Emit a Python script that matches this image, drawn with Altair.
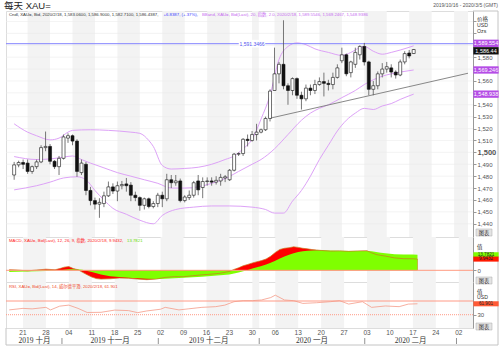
import altair as alt
import pandas as pd

# ---------------- candles: one per weekday, index 0 = 2019-10-16, index 89 = 2020-02-18
candle_idx = list(range(90))
opens = [1481, 1489.5, 1491.5, 1491, 1484, 1488, 1492, 1504, 1505, 1492.5,
         1488, 1495, 1512, 1514, 1509.5, 1483, 1490, 1468, 1459.5, 1456.5,
         1457, 1463.5, 1471, 1467.5, 1472, 1473.5, 1472.5, 1464, 1462, 1455.5,
         1461, 1454.5, 1457, 1464, 1461, 1477, 1474.5, 1476, 1459.5, 1462,
         1464, 1476, 1470.5, 1475.5, 1476, 1475, 1476, 1478.5, 1477, 1485,
         1498.5, 1499, 1511, 1510, 1515, 1517, 1519, 1528.5, 1552, 1566,
         1574, 1556, 1552, 1562, 1548, 1545, 1554, 1552, 1557, 1559.5,
         1558, 1557, 1563, 1577, 1582, 1567, 1574, 1582, 1589, 1576,
         1553, 1556, 1566, 1570, 1571, 1567.5, 1565, 1576, 1583.5, 1583.06]
highs = [1492, 1493, 1494, 1494, 1489, 1494, 1506, 1517.5, 1507, 1493.5,
         1497, 1515, 1516, 1515, 1511, 1494, 1492, 1471, 1462, 1461.5,
         1467, 1475.5, 1474, 1475.5, 1476, 1478.5, 1475, 1467, 1463, 1462,
         1462, 1459, 1466, 1467, 1482, 1481, 1481, 1478, 1464, 1468,
         1476, 1481, 1479, 1479, 1479, 1480, 1482, 1481, 1486, 1499.5,
         1500, 1512, 1515, 1518, 1524, 1520, 1530, 1553, 1588, 1576,
         1611, 1558, 1563, 1563, 1551, 1557, 1557, 1561, 1563, 1567,
         1561, 1567, 1574, 1588, 1583, 1577, 1588, 1590, 1592, 1577,
         1560, 1568, 1575, 1576, 1574, 1569, 1578, 1585, 1586, 1586.9]
lows = [1477, 1487.5, 1486, 1482, 1482, 1486, 1491, 1501, 1490, 1486,
        1481, 1494, 1508, 1506, 1479.5, 1481, 1464, 1455.5, 1452, 1445,
        1454, 1462.5, 1465, 1459, 1469, 1467, 1459, 1459, 1451, 1452,
        1453, 1453, 1454, 1454, 1459, 1470, 1472, 1458, 1458, 1460,
        1462, 1464, 1461.5, 1472, 1472, 1473, 1472, 1475, 1476, 1484,
        1497, 1497, 1505, 1509, 1510, 1516, 1518, 1526, 1552, 1558,
        1553, 1540, 1548, 1545, 1536, 1543, 1548, 1549, 1556, 1547,
        1552, 1553, 1562, 1575, 1564, 1563, 1571, 1578, 1573, 1548,
        1548, 1553, 1563, 1567, 1563, 1562, 1564, 1574, 1579, 1582.71]
closes = [1489.5, 1491.5, 1490, 1484, 1488, 1492, 1504, 1505, 1492.5, 1488,
          1495, 1513, 1514, 1509.5, 1484, 1491, 1468, 1459.5, 1456.5, 1458,
          1463.5, 1471, 1467.5, 1472, 1473, 1472, 1464, 1462, 1455.5, 1461,
          1454.5, 1457, 1464, 1461, 1477, 1474.5, 1476, 1459.5, 1462.5, 1464,
          1474.5, 1468.5, 1475.5, 1476, 1475, 1476.5, 1479, 1479.5, 1485, 1498.5,
          1499, 1511, 1510, 1515, 1517, 1519, 1528.5, 1551.5, 1566, 1574,
          1556, 1552, 1562, 1548, 1545, 1554, 1552, 1557, 1559.5, 1558,
          1557, 1563, 1571, 1582, 1566, 1576, 1584, 1589, 1576, 1553,
          1556, 1566, 1570, 1572, 1567.5, 1565, 1576, 1583, 1581, 1586.44]

# ---------------- Bollinger bands (20, 2.0)
bb_up_idx = [0, 3, 5, 8, 10, 12, 13, 17, 21, 26, 28, 30, 31, 33, 35, 38, 41, 44, 47, 49,
             51, 53, 55, 57, 59, 61, 63, 65, 67, 70, 73, 75, 77, 78, 80, 82, 84, 86, 89]
bb_up = [1524, 1517, 1514, 1510.5, 1512, 1517, 1518.5, 1519, 1518.5, 1517,
         1516, 1510, 1505, 1489, 1486, 1486.5, 1487.5, 1490, 1494, 1497,
         1503, 1511, 1528, 1548, 1578, 1589, 1592, 1590.5, 1587, 1584,
         1581.5, 1584, 1588, 1589, 1585, 1582.5, 1584, 1586, 1589.55]
bb_mid_idx = [0, 5, 8, 11, 13, 15, 17, 20, 23, 26, 29, 32, 35, 38, 41, 44, 47, 50, 53, 55,
              58, 61, 64, 66, 68, 70, 73, 76, 78, 80, 82, 84, 86, 89]
bb_mid = [1496.5, 1494, 1494.5, 1496, 1497, 1494, 1491, 1487, 1483, 1480,
          1477, 1474, 1470, 1470, 1471, 1474, 1478, 1484, 1490, 1494,
          1503, 1515, 1527, 1533, 1537, 1540, 1546, 1552, 1557, 1561,
          1564, 1566, 1567.5, 1569.25]
bb_low_idx = [0, 5, 8, 11, 14, 16, 18, 20, 22, 25, 28, 31, 33, 36, 40, 44, 48, 53, 56, 58,
              60, 62, 64, 66, 68, 70, 72, 74, 76, 78, 80, 82, 84, 86, 89]
bb_low = [1468.5, 1472, 1475, 1478.5, 1479.5, 1477, 1468, 1460, 1453, 1448,
          1443, 1440, 1447, 1452, 1454, 1455, 1455, 1454, 1452, 1449,
          1449, 1459, 1468, 1480, 1494, 1506, 1518, 1527, 1533, 1537,
          1536, 1539, 1541, 1544.5, 1548.94]

# ---------------- horizontal level and trend line
level_value = [1591.3466]
level_text = ["1,591.3466"]
trend_idx = [57, 101.1]
trend_val = [1528.7, 1566.5]

# ---------------- MACD (12, 26, 9)
macd_idx = [0, 2, 4, 6, 8, 10, 11, 12, 13, 14, 15, 16, 17, 18, 19, 20, 22, 24, 26, 28,
            30, 32, 34, 36, 38, 40, 42, 44, 46, 48, 49, 50, 51, 52, 53, 54, 55, 56, 57, 58,
            59, 60, 61, 62, 63, 64, 65, 66, 67, 68, 70, 72, 74, 76, 78, 79, 80, 81, 82, 84,
            86, 88, 89]
macd_line = [0.5, 0.2, -0.5, 0.3, 1.0, 0.5, 1.5, 2.8, 3.3, 1.5, 0.5, -1.8, -4.0, -6.0, -7.3, -7.8, -7.5, -6.8, -7.0, -7.8,
             -8.3, -7.8, -6.3, -5.6, -5.7, -4.8, -4.0, -3.4, -2.6, -1.0, 0.8, 2.2, 4.0, 5.2, 6.5, 7.6, 8.6, 10.0, 12.5, 15.8,
             18.5, 19.5, 20.0, 20.8, 20.3, 19.5, 19.0, 18.4, 18.0, 17.6, 17.0, 17.2, 16.8, 17.2, 17.3, 15.5, 14.0, 13.2, 12.6, 11.0,
             10.3, 10.2, 9.9432]
macd_signal = [-1.5, -1.3, -1.0, -0.8, -0.5, -0.2, 0.0, 0.4, 0.9, 1.0, 0.9, 0.4, -0.5, -1.6, -2.7, -3.7, -5.2, -6.0, -6.5, -7.0,
               -7.5, -7.7, -7.5, -7.0, -6.6, -6.2, -5.6, -5.0, -4.4, -3.6, -2.8, -2.0, -0.8, 0.3, 1.5, 2.7, 3.9, 5.1, 6.6, 8.4,
               10.4, 12.2, 13.8, 15.2, 16.2, 16.9, 17.3, 17.6, 17.7, 17.7, 17.5, 17.3, 17.1, 17.1, 17.1, 16.8, 16.2, 15.6, 15.0, 14.3,
               14.0, 13.9, 13.7821]

# ---------------- RSI (14)
rsi_idx = [0, 3, 5, 8, 9, 11, 13, 15, 17, 20, 23, 26, 28, 30, 33, 34, 37, 39, 42, 45,
           47, 49, 51, 53, 55, 57, 58, 60, 62, 64, 67, 70, 72, 74, 77, 79, 82, 85, 87, 89]
rsi_vals = [44, 48.5, 47, 51.5, 44, 55, 58, 48.5, 36.5, 37, 43.5, 42, 36, 41, 46, 51.5, 44, 47, 51.5, 53.5,
            58, 68, 71, 71, 73, 80, 87, 73, 71, 63, 65, 68, 71, 61, 68, 51.5, 55.5, 53.5, 61, 61.901]
rsi_levels = [70, 30]

# ---------------- axes, labels, week shading
price_ticks = [1440, 1450, 1460, 1470, 1480, 1490, 1500, 1510, 1520, 1530,
               1540, 1550, 1560, 1570, 1580, 1590, 1600, 1610]
hidden_price_ticks = [1550, 1570, 1590, 1600, 1610]
tick_idx = [3, 8, 13, 18, 23, 28, 33, 38, 43, 48, 53, 58, 63, 68, 73, 78, 83, 88, 93, 98]
tick_lab = ["21", "28", "04", "11", "18", "25", "02", "09", "16", "23",
            "30", "06", "13", "20", "27", "03", "10", "17", "24", "02"]
month_pos = [5.5, 22, 43.5, 66, 87.5]
month_lab = ["2019 十月", "2019 十一月", "2019 十二月", "2020 一月", "2020 二月"]
month_sep = [11.5, 32.5, 54.5, 77.5, 97.5]
shade_start = [3, 13, 23, 33, 43, 53, 58, 68, 78, 88, 98]
shade_end = [8, 18, 28, 38, 48, 54.5, 63, 73, 83, 93, 101.1]

# right-side value boxes (value, text, fill, text colour, vertical nudge in px)
main_box_val = [1589.554, 1586.44, 1569.246, 1548.938]
main_box_txt = ["1,589.554", "1,586.44", "1,569.246", "1,548.938"]
main_box_col = ["#b54de6", "#111111", "#b54de6", "#b54de6"]
main_box_nudge = [-2.5, 1.3, 0, 0]
macd_box_val = [13.7821, 9.9432]
macd_box_txt = ["13.7821", "9.9432"]
macd_box_col = ["#80ff00", "#ff1a00"]
rsi_box_val = [61.901]
rsi_box_txt = ["61.901"]
rsi_box_col = ["#ff5a36"]

title_text = "每天 XAU="
range_text = "2019/10/16 - 2020/3/5 (GMT)"
leg_main_1 = "Cndl, XAU=, Bid, 2020/2/18, 1,583.0600, 1,586.9000, 1,582.7100, 1,586.4387,"
leg_main_2 = "+6.8387, (+.37%),"
leg_main_3 = "BBand, XAU=, Bid(Last), 20, 指数, 2.0, 2020/2/18, 1,589.5546, 1,569.2467, 1,548.9386"
leg_macd_1 = "MACD, XAU=, Bid(Last), 12, 26, 9, 指数, 2020/2/18, 9.9432,"
leg_macd_2 = "13.7821"
leg_rsi = "RSI, XAU=, Bid(Last), 14, 威尔德平滑, 2020/2/18, 61.901"

# ---------------- layout constants
W = 467
HM, HD, HR = 226, 45, 46
FONT = "Liberation Sans"
CJK = "Liberation Sans, Noto Sans CJK SC"
FRAME = "#c4c4c4"
LEG = 4.3
xs = alt.Scale(domain=[-0.70, 101.1], nice=False, zero=False)
ys_main = alt.Scale(domain=[1428.9, 1618.8], nice=False, zero=False)
ys_macd = alt.Scale(domain=[-10.35, 29.5], nice=False, zero=False)
ys_rsi = alt.Scale(domain=[-8.8, 125.5], nice=False, zero=False)
BOX_BIG = "M-1,-0.29L1,-0.29L1,0.29L-1,0.29Z"
BOX_SMALL = "M-1,-0.2L1,-0.2L1,0.2L-1,0.2Z"


def X(f):
    return alt.X(f, type="quantitative", scale=xs, axis=None)


def right_axis(values, expr=None, big=None):
    kw = dict(orient="right", values=values, title=None, grid=False, tickSize=3,
              tickColor="#999", domainColor="#999", labelColor="#555", labelFont=FONT,
              labelPadding=1)
    if expr:
        kw["labelExpr"] = expr
    if big is not None:
        kw["labelFontSize"] = alt.condition("datum.value == %s" % big, alt.value(7.5), alt.value(6))
        kw["labelFontWeight"] = alt.condition("datum.value == %s" % big, alt.value("bold"), alt.value("normal"))
    else:
        kw["labelFontSize"] = 6
    return alt.Axis(**kw)


def label(text, x, y, size, color, align="left", font=CJK, weight="normal"):
    return alt.Chart(pd.DataFrame({"t": [text]})).mark_text(
        align=align, baseline="middle", fontSize=size, color=color, font=font, fontWeight=weight
    ).encode(x=alt.value(x), y=alt.value(y), text="t:N")


def pbox(x, y, w, h, fill):
    return alt.Chart(pd.DataFrame({"a": [0]})).mark_rect(color=fill, stroke="#aaa", strokeWidth=0.5).encode(
        x=alt.value(x), x2=alt.value(x + w), y=alt.value(y), y2=alt.value(y + h))


def prule(x1, x2, y1, y2, color=FRAME):
    return alt.Chart(pd.DataFrame({"a": [0]})).mark_rule(color=color, strokeWidth=1).encode(
        x=alt.value(x1), x2=alt.value(x2), y=alt.value(y1), y2=alt.value(y2))


def shade(h):
    return alt.Chart(pd.DataFrame({"s": shade_start, "e": shade_end})).mark_rect(color="#f3f3f3").encode(
        x=X("s"), x2=alt.X2("e"), y=alt.value(0), y2=alt.value(h))


def value_box(v, t, c, tc, ysc, axis, shape, fs, nudge=0.0):
    df = pd.DataFrame({"v": [v], "t": [t]})
    pts = alt.Chart(df).mark_point(shape=shape, filled=True, size=640, opacity=1, strokeWidth=0,
                                   color=c, yOffset=nudge).encode(
        x=alt.value(W + 13), y=alt.Y("v:Q", scale=ysc, axis=axis))
    txt = alt.Chart(df).mark_text(fontSize=fs, font=FONT, baseline="middle", color=tc, dy=nudge).encode(
        x=alt.value(W + 13), y=alt.Y("v:Q", scale=ysc, axis=axis), text="t:N")
    return [pts, txt]


# ================= main panel
main_axis = right_axis(price_ticks,
                       "indexof(%s, datum.value) >= 0 ? '' : datum.label" % str(hidden_price_ticks),
                       big=1500)
df_c = pd.DataFrame({"i": candle_idx, "o": opens, "h": highs, "l": lows, "c": closes})
grid = alt.Chart(pd.DataFrame({"g": price_ticks})).mark_rule(color="#ebebeb", strokeWidth=0.6).encode(
    y=alt.Y("g:Q", scale=ys_main, axis=main_axis))
df_bb = pd.concat([
    pd.DataFrame({"i": bb_up_idx, "v": bb_up, "b": "up"}),
    pd.DataFrame({"i": bb_mid_idx, "v": bb_mid, "b": "mid"}),
    pd.DataFrame({"i": bb_low_idx, "v": bb_low, "b": "low"}),
])
bb = alt.Chart(df_bb).mark_line(color="#dda2f7", strokeWidth=1, interpolate="monotone").encode(
    x=X("i"), y=alt.Y("v:Q", scale=ys_main, axis=main_axis), detail="b:N")
df_lvl = pd.DataFrame({"v": level_value, "t": level_text})
lvl = alt.Chart(df_lvl).mark_rule(color="#8585ff", strokeWidth=1).encode(
    y=alt.Y("v:Q", scale=ys_main, axis=main_axis))
lvl_bg = alt.Chart(df_lvl).mark_point(shape=BOX_BIG, filled=True, size=700, opacity=1, color="white",
                                      strokeWidth=0).encode(
    x=alt.value(246), y=alt.Y("v:Q", scale=ys_main, axis=main_axis))
lvl_txt = alt.Chart(df_lvl).mark_text(fontSize=5, color="#5555ee", font=FONT, baseline="middle").encode(
    x=alt.value(246), y=alt.Y("v:Q", scale=ys_main, axis=main_axis), text="t:N")
trend = alt.Chart(pd.DataFrame({"i": trend_idx, "v": trend_val})).mark_line(color="#7a7a7a", strokeWidth=0.9).encode(
    x=X("i"), y=alt.Y("v:Q", scale=ys_main, axis=main_axis))
wicks = alt.Chart(df_c).mark_rule(color="#555", strokeWidth=0.8).encode(
    x=X("i"), y=alt.Y("l:Q", scale=ys_main, axis=main_axis), y2="h:Q")
bodies = alt.Chart(df_c).mark_bar(size=3, stroke="#111", strokeWidth=0.6).encode(
    x=X("i"), y=alt.Y("o:Q", scale=ys_main, axis=main_axis), y2="c:Q",
    color=alt.condition("datum.c >= datum.o", alt.value("white"), alt.value("#111")))

main_layers = [shade(HM), grid, bb, lvl, lvl_bg, lvl_txt, trend, wicks, bodies,
               label(leg_main_1, 3, 4, LEG, "#333"),
               label(leg_main_2, 157.5, 4, LEG, "#3a3aff"),
               label(leg_main_3, 196, 4, LEG, "#c66cf0"),
               label("价格", W + 4, 8, 5.5, "#333"),
               label("USD", W + 4, 14.3, 5.2, "#333"),
               label("Ozs", W + 4, 20.3, 5.2, "#333"),
               pbox(W + 3, HM - 8, 16, 7, "#e4e4e4"),
               label("图表", W + 11, HM - 4.5, 5.2, "#333", align="center"),
               prule(W, W + 25, 0, 0), prule(W + 25, W + 25, 0, HM),
               label(title_text, -2, -5, 9.5, "#222"),
               label(range_text, W + 25, -6, 5, "#555", align="right", font=FONT),
               ]
for v, t, c, n in zip(main_box_val, main_box_txt, main_box_col, main_box_nudge):
    main_layers += value_box(v, t, c, "white", ys_main, main_axis, BOX_BIG, 5.5, n)
main = alt.layer(*main_layers).properties(width=W, height=HM)

# ================= MACD panel
macd_axis = right_axis([0])
df_m = pd.DataFrame({"i": macd_idx, "m": macd_line, "s": macd_signal})
red = alt.Chart(df_m).mark_area(color="#ff0000").encode(
    x=X("i"), y=alt.Y("m:Q", scale=ys_macd, axis=macd_axis), y2=alt.datum(0))
green = alt.Chart(df_m).mark_area(color="#7fff00").encode(
    x=X("i"), y=alt.Y("s:Q", scale=ys_macd, axis=macd_axis), y2=alt.datum(0))
mline = alt.Chart(df_m).mark_line(color="#c8781e", strokeWidth=0.7).encode(
    x=X("i"), y=alt.Y("m:Q", scale=ys_macd, axis=macd_axis))
zero = alt.Chart(pd.DataFrame({"z": [0]})).mark_rule(color="#ff9a80", strokeWidth=1).encode(
    y=alt.Y("z:Q", scale=ys_macd, axis=macd_axis))
macd_layers = [shade(HD), red, green, mline, zero,
               label(leg_macd_1, 3, 3.7, LEG, "#ff2020"),
               label(leg_macd_2, 121, 3.7, LEG, "#66dd00"),
               label("值", W + 4, 9.7, 5.5, "#333"),
               pbox(W + 3, HD - 5, 16, 7, "#e4e4e4"),
               label("图表", W + 11, HD - 1.5, 5.2, "#333", align="center"),
               prule(W + 25, W + 25, 0, HD),
               ]
for v, t, c in zip(macd_box_val, macd_box_txt, macd_box_col):
    macd_layers += value_box(v, t, c, "#222", ys_macd, macd_axis, BOX_SMALL, 4.6)
macd = alt.layer(*macd_layers).properties(width=W, height=HD)

# ================= RSI panel
rsi_axis = right_axis([30])
df_r = pd.DataFrame({"i": rsi_idx, "r": rsi_vals})
lv70 = alt.Chart(pd.DataFrame({"v": rsi_levels[:1]})).mark_rule(color="#ff9a86", strokeWidth=1).encode(
    y=alt.Y("v:Q", scale=ys_rsi, axis=rsi_axis))
lv30 = alt.Chart(pd.DataFrame({"v": rsi_levels[1:]})).mark_rule(color="#ff9a86", strokeWidth=1, strokeDash=[1, 1]).encode(
    y=alt.Y("v:Q", scale=ys_rsi, axis=rsi_axis))
rline = alt.Chart(df_r).mark_line(color="#f59a88", strokeWidth=0.8).encode(
    x=X("i"), y=alt.Y("r:Q", scale=ys_rsi, axis=rsi_axis))
days = alt.Chart(pd.DataFrame({"i": tick_idx, "t": tick_lab})).mark_text(
    fontSize=6.5, color="#555", font=FONT, baseline="middle").encode(
    x=X("i"), y=alt.value(HR + 5), text="t:N")
months = alt.Chart(pd.DataFrame({"i": month_pos, "t": month_lab})).mark_text(
    fontSize=7.5, color="#333", font="Liberation Serif, Noto Sans CJK SC", baseline="middle").encode(
    x=X("i"), y=alt.value(HR + 13), text="t:N")
seps = alt.Chart(pd.DataFrame({"i": month_sep})).mark_rule(color="#777", strokeWidth=0.8).encode(
    x=X("i"), y=alt.value(HR + 10), y2=alt.value(HR + 16))
rsi_layers = [shade(HR), lv70, lv30, rline, days, months, seps,
              label(leg_rsi, 3, 4.7, LEG, "#f04a2a"),
              label("值", W + 4, 9.7, 5.5, "#333"),
              label("USD", W + 4, 15.3, 5.2, "#333"),
              pbox(W + 3, HR - 5, 16, 7, "#e4e4e4"),
              label("图表", W + 11, HR - 1.5, 5.2, "#333", align="center"),
              prule(W + 25, W + 25, 0, HR + 17),
              prule(0, 0, HR, HR + 17),
              prule(0, W + 25, HR + 17, HR + 17),
              ]
for v, t, c in zip(rsi_box_val, rsi_box_txt, rsi_box_col):
    rsi_layers += value_box(v, t, c, "#222", ys_rsi, rsi_axis, BOX_SMALL, 4.6)
rsi = alt.layer(*rsi_layers).properties(width=W, height=HR)

chart = alt.vconcat(main, macd, rsi, spacing=0, bounds="flush").properties(
    padding={"left": 3, "top": 0, "right": 0, "bottom": 0}
).configure_view(stroke=FRAME, strokeWidth=1).configure(background="white")

chart.save("out.html", embed_options={"renderer": "svg", "actions": False})
